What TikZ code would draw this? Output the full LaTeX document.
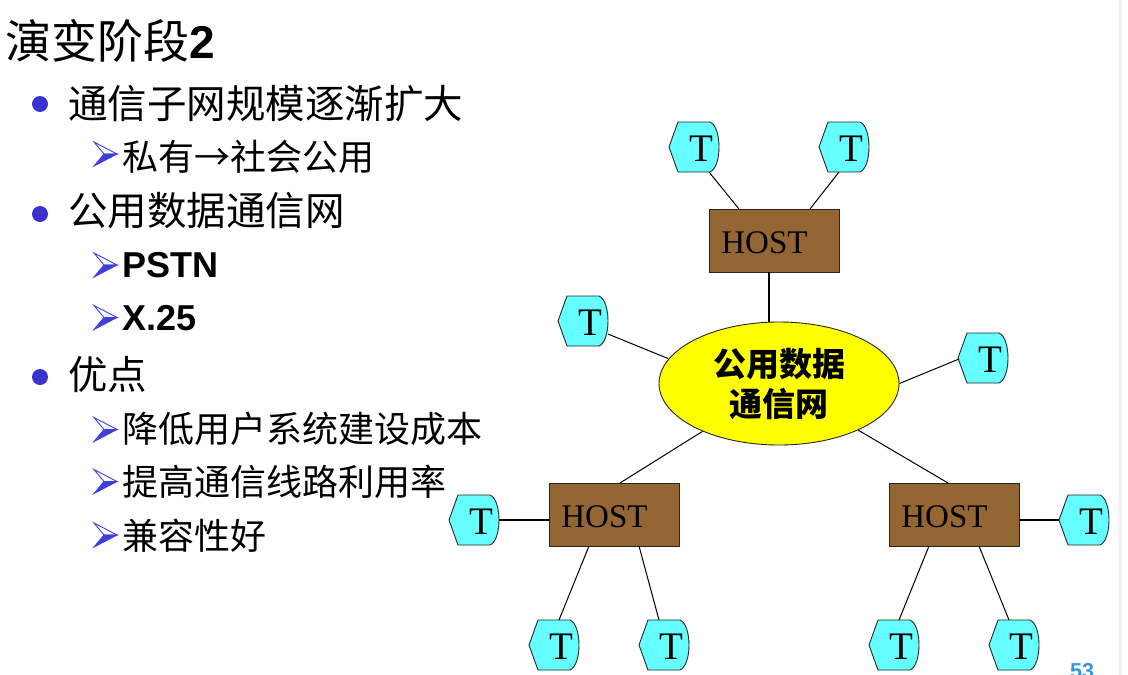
\documentclass[tikz,border=0pt]{standalone}
\usepackage{fontspec}
\setmainfont{Liberation Serif}
\newfontfamily\cjk{Noto Sans CJK SC}
\newfontfamily\arialf{Liberation Sans}
\usetikzlibrary{shapes.geometric,calc}

\definecolor{tcyan}{RGB}{102,255,255}
\definecolor{hostbrown}{RGB}{147,102,51}
\definecolor{netyellow}{RGB}{255,255,0}
\definecolor{bulletblue}{RGB}{58,52,204}
\definecolor{arrowblue}{RGB}{62,62,222}
\definecolor{pageblue}{RGB}{51,153,221}

% lower a label a little without changing its box
\newcommand{\lowered}[1]{\raisebox{-2pt}[\height][0pt]{#1}}

\tikzset{
  termshape/.style={fill=tcyan, draw=black!85, line width=0.9pt},
  termbox/.style={minimum width=52pt, minimum height=52pt, inner sep=0pt,
    font=\fontsize{39}{39}\selectfont},
  hostbox/.style={draw=black!85, line width=0.9pt, fill=hostbrown, rectangle,
    minimum width=130pt, minimum height=63pt, inner sep=0pt,
    font=\fontsize{33}{33}\selectfont},
  netbox/.style={draw=black!85, line width=0.9pt, fill=netyellow, ellipse,
    minimum width=240pt, minimum height=123pt, inner sep=0pt, align=center,
    font=\cjk\bfseries\fontsize{33}{40}\selectfont},
  thinlink/.style={draw=black, line width=1pt},
  thicklink/.style={draw=black, line width=2.3pt},
  lvlone/.style={anchor=base west, inner sep=0pt, font=\cjk\fontsize{39.5}{39.5}\selectfont},
  lvltwo/.style={anchor=base west, inner sep=0pt, font=\cjk\fontsize{36}{36}\selectfont},
  lvltwolatin/.style={anchor=base west, inner sep=0pt, font=\arialf\bfseries\fontsize{36}{36}\selectfont},
  dotbullet/.style={circle, fill=bulletblue, inner sep=0pt, minimum size=16pt},
  subarrow/.pic={
    \filldraw[fill=white, draw=arrowblue, line width=0.9pt]
      (94,-12) -- (117,0) -- (104,0) -- cycle;
    \filldraw[fill=arrowblue, draw=arrowblue, line width=0.9pt]
      (104,0) -- (117,0) -- (94,12) -- cycle;
  }
}

% terminal: pointed left side, rounded right side, with a named node on top
\newcommand{\termnode}[2]{%
  \filldraw[termshape, shift={#2}]
    (-25,0) -- (-16,-25) -- (16,-25)
    .. controls (28,-20) and (28,20) .. (16,25)
    -- (-16,25) -- cycle;
  \node[termbox] (#1) at #2 {\hspace*{14pt}\lowered{T}};
}

\begin{document}
\begin{tikzpicture}[x=1pt,y=-1pt]
\path[use as bounding box, clip] (0,0) rectangle (1128,675);
\fill[white] (0,0) rectangle (1128,675);
\fill[black!6] (1119,0) rectangle (1122,675);

% title
\node[anchor=base west, inner sep=0pt] (title) at (5,58.5)
  {\cjk\fontsize{46}{46}\selectfont 演变阶段\arialf\bfseries 2};

% bullet list
\node[dotbullet] (b1) at (40,104) {};
\node[lvlone] (l1) at (68,118) {通信子网规模逐渐扩大};
\pic at (0,154) {subarrow};
\node[lvltwo] (l11) at (122,170.7) {私有→社会公用};

\node[dotbullet] (b2) at (40,214) {};
\node[lvlone] (l2) at (68,225.5) {公用数据通信网};
\pic at (0,265) {subarrow};
\node[lvltwolatin] (l21) at (122,277) {PSTN};
\pic at (0,317.5) {subarrow};
\node[lvltwolatin] (l22) at (122,330) {X.25};

\node[dotbullet] (b3) at (40,377) {};
\node[lvlone] (l3) at (68,389.5) {优点};
\pic at (0,429.5) {subarrow};
\node[lvltwo] (l31) at (122,442.7) {降低用户系统建设成本};
\pic at (0,481.5) {subarrow};
\node[lvltwo] (l32) at (122,495.2) {提高通信线路利用率};
\pic at (0,535) {subarrow};
\node[lvltwo] (l33) at (122,549.2) {兼容性好};

% network
\node[netbox] (net) at (779,383.5) {公用数据\\通信网};

\node[hostbox] (htop) at (774,240.5) {\lowered{HOST}\hspace*{19pt}};
\node[hostbox] (hleft) at (614,514.5) {\lowered{HOST}\hspace*{19pt}};
\node[hostbox] (hright) at (954,514.5) {\lowered{HOST}\hspace*{19pt}};

\termnode{t1}{(694,147)}
\termnode{t2}{(844,147)}
\termnode{t3}{(583,321)}
\termnode{t4}{(983,358)}
\termnode{t5}{(474,520)}
\termnode{t6}{(554,645)}
\termnode{t7}{(664,645)}
\termnode{t8}{(1084,520)}
\termnode{t9}{(894,645)}
\termnode{t10}{(1014,645)}

% links
\draw[thinlink] ($(t1.center)+(15,25)$) -- ($(htop.center)+(-35,-31.5)$);
\draw[thinlink] ($(t2.center)+(-5,25)$) -- ($(htop.center)+(36,-31.5)$);
\draw[thicklink] ($(htop.center)+(-5,31.5)$) -- ($(net.center)+(-10,-61.3)$);
\draw[thinlink] ($(t3.center)+(25,13)$) -- ($(net.center)+(-111,-25)$);
\draw[thinlink] ($(t4.center)+(-24,1)$) -- (net.east);
\draw[thinlink] ($(hleft.center)+(6,-31.5)$) -- (net);
\draw[thinlink] ($(hright.center)+(-6,-31.5)$) -- (net);

\draw[thicklink] ($(t5.center)+(25,0)$) -- ($(hleft.center)+(-65,5.5)$);
\draw[thinlink] ($(hleft.center)+(-25,31.5)$) -- ($(t6.center)+(5,-25)$);
\draw[thinlink] ($(hleft.center)+(25,31.5)$) -- ($(t7.center)+(-5,-25)$);

\draw[thicklink] ($(hright.center)+(65,5.5)$) -- ($(t8.center)+(-25,0)$);
\draw[thinlink] ($(hright.center)+(-25,31.5)$) -- ($(t9.center)+(5,-25)$);
\draw[thinlink] ($(hright.center)+(25,31.5)$) -- ($(t10.center)+(-5,-25)$);

% page number
\node[anchor=base west, inner sep=0pt, text=pageblue,
  font=\arialf\bfseries\fontsize{21.6}{21.6}\selectfont] (pg) at (1070,678.5) {53};
\end{tikzpicture}
\end{document}
